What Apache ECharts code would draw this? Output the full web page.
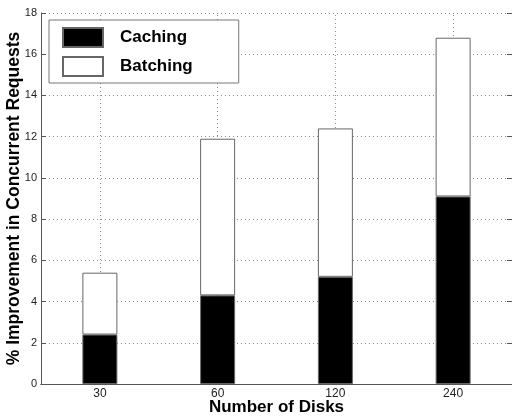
<!DOCTYPE html>
<html>
<head>
<meta charset="utf-8">
<script src="https://cdn.jsdelivr.net/npm/echarts@6/dist/echarts.min.js"></script>
<style>html,body{margin:0;padding:0;background:#fff}#c{width:512px;height:416px}</style>
</head>
<body>
<div id="c"></div>
<script>
var categories = ['30', '60', '120', '240'];
var caching = [2.4, 4.3, 5.2, 9.1];
var batching = [3.0, 7.6, 7.2, 7.7];
var yTicks = [0, 2, 4, 6, 8, 10, 12, 14, 16, 18];

var FONT = '"Liberation Sans", Arial, Helvetica, sans-serif';
var gridDot = { color: '#8a8a8a', width: 1, type: [1, 3] };

var chart = echarts.init(document.getElementById('c'), null, { renderer: 'canvas' });
chart.setOption({
  animation: false,
  backgroundColor: '#fff',
  grid: { left: 41, right: 0, top: 13, bottom: 32, containLabel: false, outerBoundsMode: 'none' },
  legend: {
    orient: 'vertical',
    left: 49, top: 20,
    padding: [7, 46, 6, 13],
    itemWidth: 40, itemHeight: 19, itemGap: 8,
    borderColor: '#777', borderWidth: 1, backgroundColor: '#fff',
    icon: 'rect',
    textStyle: { fontFamily: FONT, fontWeight: 'bold', fontSize: 17, color: '#000', padding: [0, 0, 0, 12] },
    data: ['Caching', 'Batching']
  },
  xAxis: [{
    type: 'category', data: categories, position: 'bottom',
    name: 'Number of Disks', nameLocation: 'middle', nameGap: 15, nameMoveOverlap: false,
    nameTextStyle: { fontFamily: FONT, fontWeight: 'bold', fontSize: 17, color: '#000' },
    axisLine: { lineStyle: { color: '#555', width: 1 } },
    axisTick: { inside: true, alignWithLabel: true, length: 5, lineStyle: { color: '#555' } },
    axisLabel: { fontFamily: FONT, fontSize: 12, color: '#222', margin: 4 },
    splitLine: { show: false }
  }, {
    type: 'category', data: categories, position: 'top',
    axisLine: { lineStyle: { color: '#555', width: 1 } },
    axisTick: { inside: true, alignWithLabel: true, length: 5, lineStyle: { color: '#555' } },
    axisLabel: { show: false },
    splitLine: { show: false }
  }],
  yAxis: [{
    type: 'value', min: 0, max: 18, interval: 2, position: 'left',
    name: '% Improvement in Concurrent Requests', nameLocation: 'middle', nameGap: 18, nameMoveOverlap: false,
    nameTextStyle: { fontFamily: FONT, fontWeight: 'bold', fontSize: 17.5, color: '#000' },
    axisLine: { show: true, lineStyle: { color: '#555', width: 1 } },
    axisTick: { show: true, inside: true, length: 5, lineStyle: { color: '#555' } },
    axisLabel: { fontFamily: FONT, fontSize: 11, color: '#222', margin: 4,
      formatter: function (v) { return yTicks.indexOf(v) >= 0 ? String(v) : ''; } },
    splitLine: { show: true, lineStyle: gridDot }
  }, {
    type: 'value', min: 0, max: 18, interval: 2, position: 'right',
    axisLine: { show: true, lineStyle: { color: '#555', width: 1 } },
    axisTick: { show: true, inside: true, length: 5, lineStyle: { color: '#555' } },
    axisLabel: { show: false },
    splitLine: { show: false }
  }],
  series: [{
    name: 'Caching', type: 'bar', stack: 'total', barWidth: 35,
    xAxisIndex: 0, yAxisIndex: 0,
    data: caching,
    itemStyle: { color: '#000', borderColor: '#666', borderWidth: 1 },
    markLine: {
      z: 1, silent: true, symbol: 'none', label: { show: false },
      lineStyle: gridDot,
      data: categories.map(function (c) { return { xAxis: c }; })
    }
  }, {
    name: 'Batching', type: 'bar', stack: 'total', barWidth: 35,
    xAxisIndex: 0, yAxisIndex: 0,
    data: batching,
    itemStyle: { color: '#fff', borderColor: '#666', borderWidth: 1 }
  }]
});
</script>
</body>
</html>
